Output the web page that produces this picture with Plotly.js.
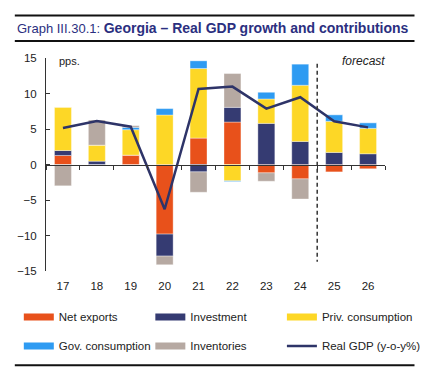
<!DOCTYPE html>
<html>
<head>
<meta charset="utf-8">
<script src="https://cdn.plot.ly/plotly-3.0.1.min.js"></script>
<style>
html,body{margin:0;padding:0;background:#fff;}
#chart{width:438px;height:378px;}
</style>
</head>
<body>
<div id="chart"></div>
<script>
const years = ['17','18','19','20','21','22','23','24','25','26'];
const netExports   = [1.27, 0.0, 1.32, -9.8, 3.72, 5.98, -1.18, -2.03, -1.04, -0.6];
const investment   = [0.70, 0.47, 0.0, -3.1, -1.04, 2.07, 5.79, 3.25, 1.70, 1.51];
const privCons     = [6.10, 2.26, 3.58, 6.97, 9.80, -2.30, 3.44, 7.91, 4.38, 3.58];
const govCons      = [0.0, 0.0, 0.33, 0.90, 1.08, -0.10, 0.94, 2.97, 0.94, 0.80];
const inventories  = [-3.0, 3.53, 0.24, -1.22, -2.87, 4.76, -1.18, -2.83, 0.0, 0.0];
const realGDP      = [5.13, 6.12, 5.32, -6.3, 10.65, 10.97, 7.87, 9.47, 6.08, 5.23];
const seriesNames  = ['Net exports','Investment','Priv. consumption','Gov. consumption','Inventories'];
const seriesColors = ['#E8511B','#353B72','#FDD726','#2E9BF2','#B6A9A2'];
const gdpName = 'Real GDP (y-o-y%)';
const gdpColor = '#2E3468';
const forecastStart = 7.5;

const font = 'Liberation Sans, Arial, sans-serif';
const seriesData = [netExports, investment, privCons, govCons, inventories];

const traces = [];
seriesData.forEach((vals, i) => {
  traces.push({
    type: 'bar', x: years, y: vals, name: seriesNames[i],
    marker: {color: seriesColors[i], line: {color: 'rgba(255,255,255,0.6)', width: 0.6}},
    width: 0.5, showlegend: false, hoverinfo: 'skip'
  });
});
traces.push({
  type: 'scatter', mode: 'lines', x: years, y: realGDP, name: gdpName,
  line: {color: gdpColor, width: 2.5}, showlegend: false
});
// legend entries: one legend per entry, laid out in a 3x2 grid
const legendNames = seriesNames.concat([gdpName]);
const legendColors = seriesColors.concat([gdpColor]);
const legendIds = ['legend','legend2','legend3','legend4','legend5','legend6'];
legendNames.forEach((n, i) => {
  traces.push({
    type: 'scatter', mode: 'lines', x: [null], y: [null], name: n,
    line: {color: legendColors[i], width: i < 5 ? 7 : 2.5},
    legend: legendIds[i]
  });
});
// dummy trace for the zero-line axis
traces.push({type: 'scatter', x: years, y: years.map(() => null), xaxis: 'x2', showlegend: false, hoverinfo: 'skip'});

const colX = [-0.0802, 0.3078, 0.6959];
const rowY = [-0.2158, -0.352];

const layout = {
  width: 438, height: 378,
  margin: {l: 45.7, r: 47, t: 57.5, b: 107.3},
  paper_bgcolor: '#fff', plot_bgcolor: '#fff',
  barmode: 'relative', bargap: 0.5,
  showlegend: true,
  font: {family: font, size: 11, color: '#222'},
  xaxis: {
    type: 'category', range: [-0.5, 9.5], showline: false, ticks: '',
    showgrid: false, zeroline: false, tickfont: {size: 11.5, color: '#222'},
    ticklabelstandoff: 6
  },
  xaxis2: {
    type: 'category', overlaying: 'x', anchor: 'free', position: 0.5,
    range: [-0.5, 9.5], showline: true, linecolor: '#333', linewidth: 1.5,
    ticks: 'outside', ticklen: 4, tickwidth: 1, tickcolor: '#333', tickson: 'boundaries',
    showticklabels: false, showgrid: false, zeroline: false, side: 'bottom'
  },
  yaxis: {
    range: [-15, 15], dtick: 5, showgrid: false, zeroline: false,
    showline: true, linecolor: '#333', linewidth: 1,
    ticks: 'inside', ticklen: 4, tickcolor: '#333',
    tickfont: {size: 11.5, color: '#222'}, ticklabelstandoff: 6
  },
  shapes: [
    {type: 'line', xref: 'x', yref: 'y', x0: forecastStart, x1: forecastStart, y0: 14.2, y1: -13.7,
     line: {color: '#333', width: 1.5, dash: '4px,3px'}},
    {type: 'line', xref: 'paper', yref: 'paper', x0: -0.092, x1: 1.087, y0: 1.2, y1: 1.2,
     line: {color: '#111', width: 2}},
    {type: 'line', xref: 'paper', yref: 'paper', x0: -0.092, x1: 1.087, y0: 1.08, y1: 1.08,
     line: {color: '#111', width: 2}},
    {type: 'line', xref: 'paper', yref: 'paper', x0: -0.092, x1: 1.087, y0: -0.442, y1: -0.442,
     line: {color: '#111', width: 2}}
  ],
  annotations: [
    {xref: 'paper', yref: 'paper', x: -0.092, y: 1.14, xanchor: 'left', yanchor: 'middle',
     text: 'Graph III.30.1: <b><span style="font-size:14px">Georgia – Real GDP growth and contributions</span></b>',
     showarrow: false, font: {family: font, size: 13, color: '#2B2F80'}},
    {xref: 'paper', yref: 'paper', x: 0.033, y: 0.985, xanchor: 'left', yanchor: 'middle',
     text: 'pps.', showarrow: false, font: {family: font, size: 11, color: '#222'}},
    {xref: 'paper', yref: 'paper', x: 1.006, y: 0.985, xanchor: 'right', yanchor: 'middle',
     text: '<i>forecast</i>', showarrow: false, font: {family: font, size: 12, color: '#222'}}
  ]
};
legendIds.forEach((id, i) => {
  layout[id] = {
    orientation: 'v', xanchor: 'left', yanchor: 'middle',
    x: colX[i % 3], y: rowY[Math.floor(i / 3)],
    font: {family: font, size: 11.5, color: '#222'},
    bgcolor: 'rgba(0,0,0,0)', itemwidth: 30
  };
});

Plotly.newPlot('chart', traces, layout, {displayModeBar: false, staticPlot: true});
</script>
</body>
</html>
